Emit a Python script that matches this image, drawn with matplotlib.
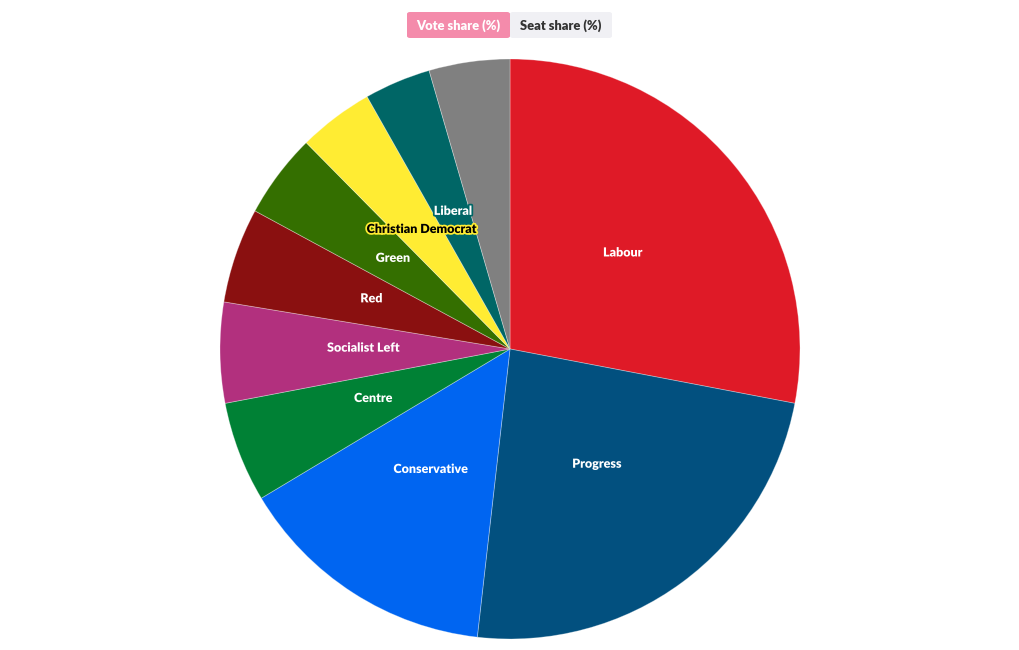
import matplotlib
matplotlib.use("Agg")
import math
import matplotlib.pyplot as plt
import matplotlib.patheffects as pe
from matplotlib.patches import FancyBboxPatch

parties = ["Labour", "Progress", "Conservative", "Centre", "Socialist Left",
           "Red", "Green", "Christian Democrat", "Liberal", "Others"]
vote_share = [28.0, 23.8, 14.6, 5.6, 5.6, 5.3, 4.7, 4.2, 3.7, 4.5]
colors = ["#DF1A27", "#02507F", "#0065F1", "#008135", "#B2307E",
          "#8A1010", "#346F00", "#FFEC33", "#006666", "#808080"]
text_colors = ["white", "white", "white", "white", "white",
               "white", "white", "black", "white", "white"]
show_label = [True, True, True, True, True, True, True, True, True, False]
buttons = ["Vote share (%)", "Seat share (%)"]

plt.rcParams['font.family'] = ['Lato', 'DejaVu Sans']

fig = plt.figure(figsize=(10.2, 6.5), dpi=100)
W, H = 1020, 650
cx, cy, R = 510, 349, 290
ax = fig.add_axes([(cx - R) / W, (H - cy - R) / H, 2 * R / W, 2 * R / H])
ax.set_aspect("equal")

wedges, _ = ax.pie(vote_share, colors=colors, startangle=90, counterclock=False,
                   radius=1.0, wedgeprops=dict(edgecolor=(1, 1, 1, 0.35), linewidth=0.6))
ax.set_xlim(-1, 1)
ax.set_ylim(-1, 1)

for w, name, tc, col, show in zip(wedges, parties, text_colors, colors, show_label):
    if not show:
        continue
    ang = math.radians((w.theta1 + w.theta2) / 2)
    r = 0.505
    ax.text(r * math.cos(ang), r * math.sin(ang) + 0.011, name, ha="center", va="center",
            color=tc, fontsize=9, fontweight="heavy",
            path_effects=[pe.withStroke(linewidth=2.5, foreground=col)])

# buttons
bx = [407, 510]
bw = [103, 102]
by, bh = 12, 26
fills = ["#F48BAB", "#F0F0F4"]
tcols = ["white", "#333333"]
for x0, w0, f, t, lab in zip(bx, bw, fills, tcols, buttons):
    p = FancyBboxPatch((x0 / W, 1 - (by + bh) / H), w0 / W, bh / H,
                       boxstyle="round,pad=0,rounding_size=0.003",
                       transform=fig.transFigure, facecolor=f, edgecolor="none")
    fig.patches.append(p)
    fig.text((x0 + w0 / 2) / W, 1 - (by + bh / 2) / H - 0.0015, lab, ha="center", va="center",
             color=t, fontsize=9.3, fontweight="heavy")

fig.savefig("out.png", dpi=100)
